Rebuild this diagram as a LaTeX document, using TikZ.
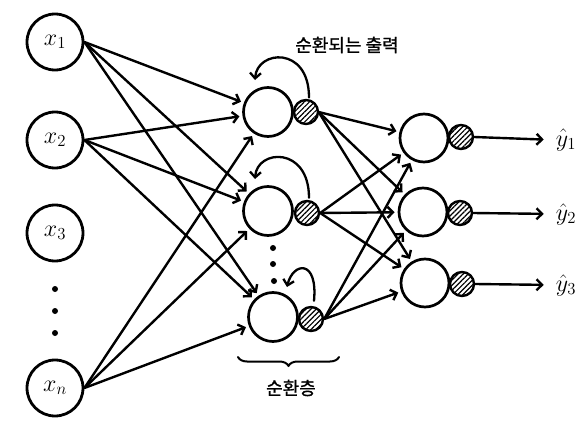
\RequirePackage{fix-cm}
\documentclass[tikz,border=0pt]{standalone}
\usepackage{fontspec}
\newfontfamily\kr[FakeBold=1.2]{Noto Sans CJK KR}
\usetikzlibrary{arrows.meta,patterns.meta,decorations.pathreplacing,calc}
\newcommand\bigmath{\fontsize{24}{28}\selectfont}
\begin{document}
\begin{tikzpicture}[x=1pt,y=-1pt,
  line cap=round, line join=round,
  inp/.style={circle,draw,line width=2.8pt,minimum size=56pt,inner sep=0pt,font=\bigmath},
  hid/.style={circle,draw,line width=2.7pt,minimum size=49pt,inner sep=0pt},
  act/.style={circle,draw,line width=2.4pt,minimum size=24pt,inner sep=0pt,
     pattern={Lines[angle=45,distance=3.6pt,line width=1.2pt]}},
  dotn/.style={circle,fill,minimum size=6pt,inner sep=0pt},
  tip/.style={-{Straight Barb[length=5.5pt,width=11pt]}},
  conn/.style={line width=2.4pt,tip,shorten >=3pt},
  lbl/.style={font=\bigmath,inner sep=0pt},
  krl/.style={font=\kr\fontsize{18}{21}\selectfont,inner sep=0pt}]
\useasboundingbox (0,0) rectangle (582,447);
% inputs
\node[inp] (x1) at (55,42) {$x_1$};
\node[inp] (x2) at (55,140) {$x_2$};
\node[inp] (x3) at (55,233) {$x_3$};
\node[inp] (xn) at (55,388) {$x_n$};
\node[dotn] (d1) at (55,289) {};
\node[dotn] (d2) at (55,311) {};
\node[dotn] (d3) at (55,333) {};
% hidden
\node[hid] (h1) at (268,112) {};
\node[hid] (h2) at (268,211) {};
\node[hid] (h3) at (273,317) {};
\node[act] (s1) at (306,112) {};
\node[act] (s2) at (307,213) {};
\node[act] (s3) at (311,319) {};
\node[dotn] (e1) at (273,248) {};
\node[dotn] (e2) at (273,264) {};
\node[dotn] (e3) at (274,281) {};
% outputs
\node[hid,minimum size=48pt] (o1) at (424,138) {};
\node[hid,minimum size=48pt] (o2) at (423,212) {};
\node[hid,minimum size=48pt] (o3) at (425,283) {};
\node[act] (t1) at (461,137) {};
\node[act] (t2) at (460,213) {};
\node[act] (t3) at (462,284) {};
\node[lbl] (y1) at (566,140) {$\hat{y}_1$};
\node[lbl] (y2) at (566,214) {$\hat{y}_2$};
\node[lbl] (y3) at (566,285) {$\hat{y}_3$};
% input connections
\foreach \i in {x1,x2,xn}{
  \foreach \j in {h1,h2,h3}{
    \draw[conn] (\i.east) -- (\j);
  }
}
% hidden to output
\foreach \i in {s1,s2,s3}{
  \foreach \j in {o1,o2,o3}{
    \draw[conn] (\i.east) -- (\j);
  }
}
% outputs
\draw[conn,shorten >=12pt] (t1.east) -- (y1.west);
\draw[conn,shorten >=12pt] (t2.east) -- (y2.west);
\draw[conn,shorten >=12pt] (t3.east) -- (y3.west);
% recurrent loops
\coordinate (r1) at ($(h1)+(-13,-32)$);
\coordinate (r2) at ($(h2)+(-13,-32)$);
\coordinate (r3) at ($(h3)+(14,-30)$);
\draw[line width=2.3pt,tip] ($(s1.north)+(3,-2)$) .. controls +(0,-52) and +(2,-30) .. (r1);
\draw[line width=2.3pt,tip] ($(s2.north)+(2,-2)$) .. controls +(0,-52) and +(2,-30) .. (r2);
\draw[line width=2.3pt,tip] ($(s3.north)+(3,-5)$) .. controls +(4,-42) and +(6,-25) .. (r3);
\node[krl] (lab1) at (347,45) {순환되는 출력};
% brace
\coordinate (b1) at (238,357);
\coordinate (b2) at (339,357);
\draw[line width=2pt,decorate,decoration={brace,mirror,amplitude=9pt}] (b1) -- (b2);
\node[krl] (lab2) at (291,388) {순환층};
\end{tikzpicture}
\end{document}
